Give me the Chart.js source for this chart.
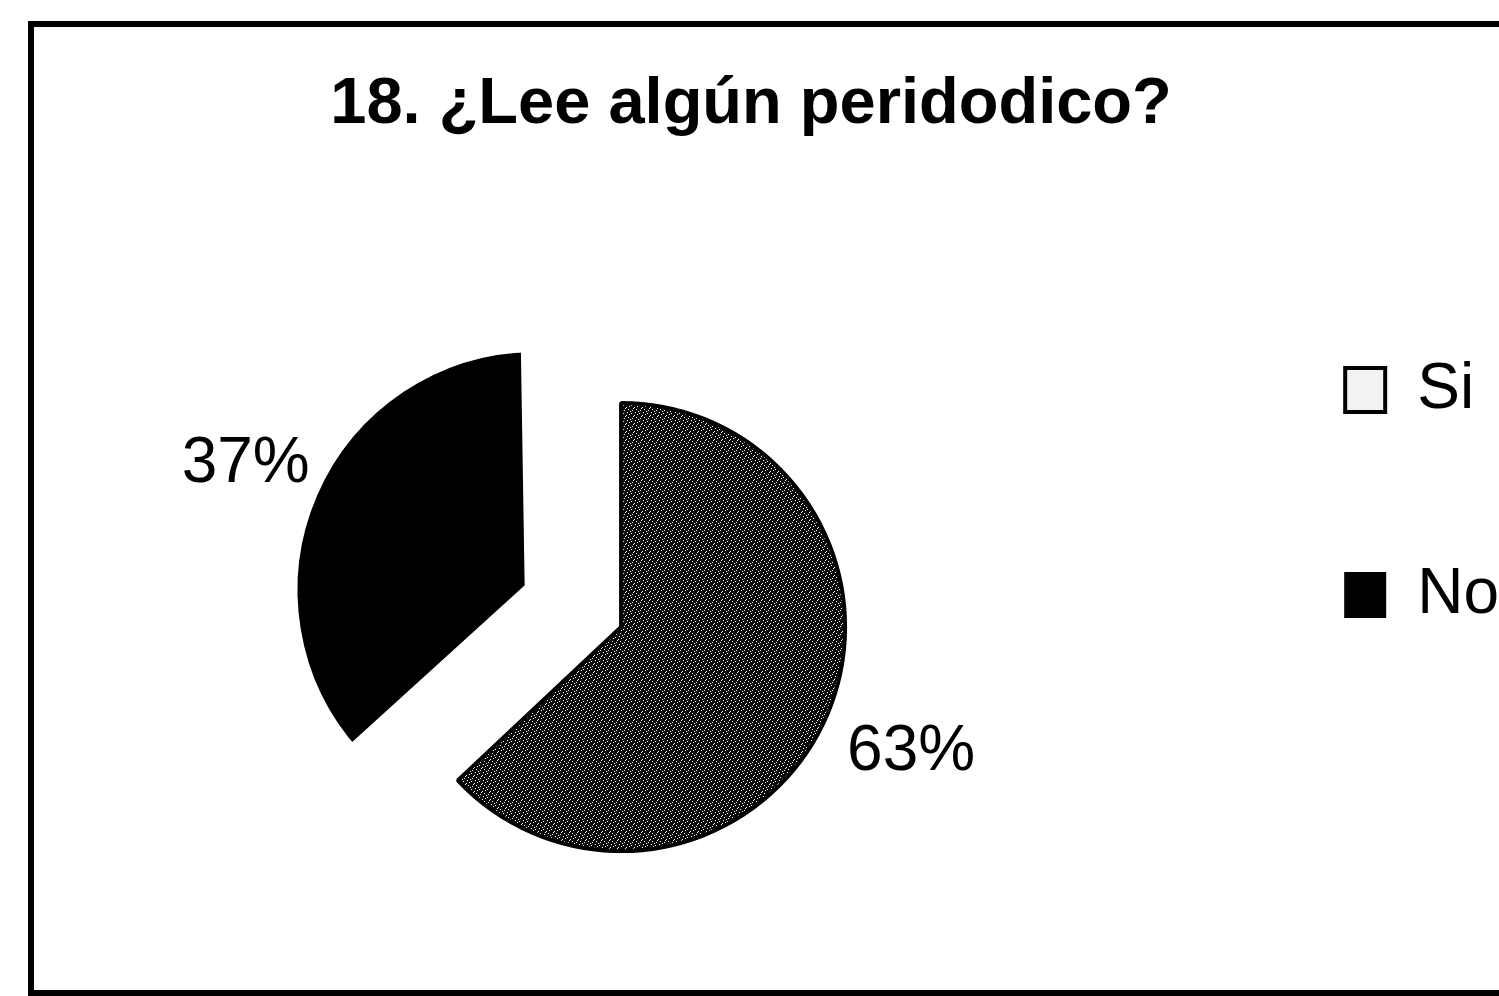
<!DOCTYPE html>
<html>
<head>
<meta charset="utf-8">
<script src="https://cdn.jsdelivr.net/npm/chart.js@4/dist/chart.umd.min.js"></script>
<style>
  html, body { margin: 0; padding: 0; background: #fff; overflow: hidden; }
  #wrap { position: absolute; left: -7px; top: 0; width: 1540px; height: 1040px; }
  #frame { position: absolute; left: 28px; top: 21px; width: 1600px; height: 963px;
           border: 6px solid #000; pointer-events: none; }
</style>
</head>
<body>
<div id="wrap"><canvas id="pieChart" width="1540" height="1040"></canvas></div>
<div id="frame"></div>
<script>
// chart data
const titleText = "18. ¿Lee algún peridodico?";
const categories = ["Si", "No"];
const percents = [63, 37];
const explode = [0, 372];

// speckled fill for the "Si" slice
function speckle() {
    let rows = [
        "10000000",
        "00010000",
        "00000001",
        "00000100",
        "00100000",
        "00000010",
        "00001000",
        "01000000"
    ];
    let c = document.createElement("canvas");
    c.width = 8;
    c.height = 8;
    let g = c.getContext("2d");
    g.fillStyle = "#0a0a0a";
    g.fillRect(0, 0, 8, 8);
    g.fillStyle = "#fff";
    rows.forEach(function (row, y) {
        for (let x = 0; x < row.length; x++) {
            if (row[x] === "1") g.fillRect(x, y, 1, 1);
        }
    });
    return g.createPattern(c, "repeat");
}

// percentage labels outside each slice
const pctLabels = {
    id: "pctLabels",
    afterDatasetsDraw: function (chart) {
        let ctx = chart.ctx;
        let meta = chart.getDatasetMeta(0);
        let total = percents.reduce(function (a, b) { return a + b; }, 0);
        ctx.save();
        ctx.font = "64px 'Liberation Sans', Arial, sans-serif";
        ctx.fillStyle = "#000";
        ctx.textAlign = "center";
        ctx.textBaseline = "middle";
        meta.data.forEach(function (arc, i) {
            let p = arc.getProps(["x", "y", "startAngle", "endAngle", "outerRadius"], true);
            let mid = (p.startAngle + p.endAngle) / 2;
            let d = p.outerRadius + explode[i] / 4 + 92;
            let txt = Math.round(percents[i] / total * 100) + "%";
            ctx.fillText(txt, p.x + Math.cos(mid) * d, p.y + Math.sin(mid) * d);
        });
        ctx.restore();
    }
};

document.addEventListener("DOMContentLoaded", function () {
    let ctx = document.getElementById("pieChart").getContext("2d");

    new Chart(ctx, {
        type: "pie",
        data: {
            labels: categories,
            datasets: [{
                data: percents,
                backgroundColor: [speckle(), "#000"],
                borderColor: ["#000", "#fff"],
                borderWidth: [4, 22],
                offset: explode
            }]
        },
        options: {
            responsive: false,
            animation: false,
            events: [],
            radius: 224,
            layout: { padding: { top: 0, left: 0, right: 24, bottom: 10 } },
            plugins: {
                tooltip: { enabled: false },
                title: {
                    display: true,
                    text: titleText,
                    color: "#000",
                    font: { family: "'Liberation Sans', Arial, sans-serif", size: 65, weight: "bold" },
                    padding: { top: 66, bottom: 80 }
                },
                legend: {
                    position: "right",
                    align: "center",
                    labels: {
                        color: "#000",
                        font: { family: "'Liberation Sans', Arial, sans-serif", size: 64, lineHeight: 0.852 },
                        boxWidth: 40,
                        boxHeight: 44,
                        padding: 96,
                        generateLabels: function (chart) {
                            let items = Chart.overrides.doughnut.plugins.legend.labels.generateLabels(chart);
                            items.forEach(function (it) {
                                it.text = [it.text, ""];
                                it.strokeStyle = "#000";
                            });
                            items[0].fillStyle = "#f2f2f2";
                            items[0].lineWidth = 4;
                            items[1].lineWidth = 2;
                            return items;
                        }
                    }
                }
            }
        },
        plugins: [pctLabels]
    });
});
</script>
</body>
</html>
